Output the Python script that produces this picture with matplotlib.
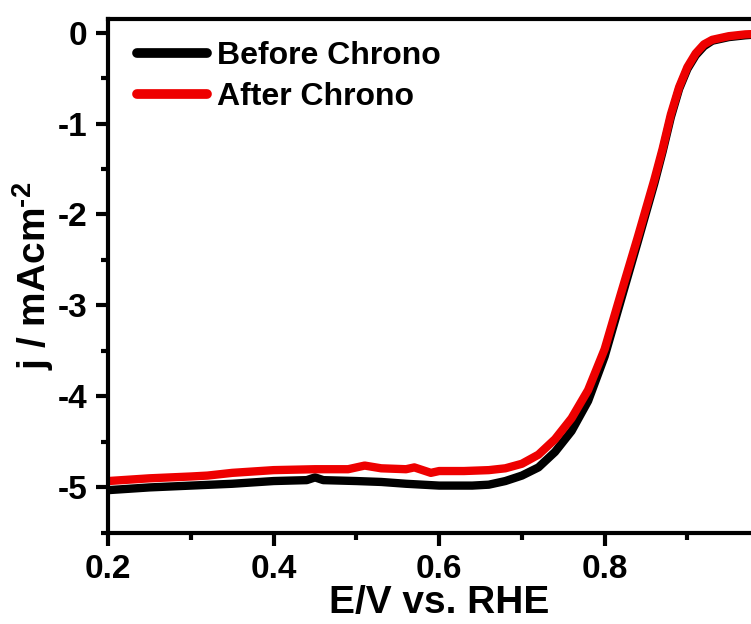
import matplotlib
matplotlib.use("Agg")
import matplotlib.pyplot as plt
from matplotlib.ticker import MultipleLocator

plt.rcParams["font.family"] = ["Liberation Sans", "DejaVu Sans"]
plt.rcParams["font.weight"] = "bold"
plt.rcParams["mathtext.fontset"] = "custom"
plt.rcParams["mathtext.rm"] = "Liberation Sans:bold"
plt.rcParams["mathtext.bf"] = "Liberation Sans:bold"

# potential in V vs. RHE
before_e = [0.20, 0.25, 0.30, 0.35, 0.40, 0.44, 0.45, 0.46, 0.50, 0.53, 0.56, 0.58,
            0.60, 0.64, 0.66, 0.68, 0.70, 0.72, 0.74, 0.76, 0.78, 0.80, 0.82, 0.84,
            0.86, 0.87, 0.88, 0.89, 0.90, 0.91, 0.92, 0.93, 0.95, 0.97, 1.00]
before_j = [-5.03, -5.00, -4.98, -4.96, -4.93, -4.92, -4.89, -4.92, -4.93, -4.94, -4.96, -4.97,
            -4.98, -4.98, -4.97, -4.93, -4.87, -4.78, -4.61, -4.38, -4.05, -3.56, -2.93, -2.30,
            -1.66, -1.31, -0.93, -0.62, -0.40, -0.25, -0.15, -0.09, -0.05, -0.03, -0.01]

after_e = [0.20, 0.25, 0.30, 0.32, 0.35, 0.40, 0.45, 0.49, 0.51, 0.53, 0.56, 0.57,
           0.59, 0.60, 0.63, 0.66, 0.68, 0.70, 0.72, 0.74, 0.76, 0.78, 0.80, 0.82,
           0.84, 0.86, 0.87, 0.88, 0.89, 0.90, 0.91, 0.92, 0.93, 0.95, 0.97, 1.00]
after_j = [-4.93, -4.90, -4.88, -4.87, -4.84, -4.81, -4.80, -4.80, -4.76, -4.79, -4.80, -4.78,
           -4.84, -4.82, -4.82, -4.81, -4.79, -4.74, -4.64, -4.47, -4.24, -3.93, -3.48, -2.86,
           -2.25, -1.62, -1.28, -0.90, -0.60, -0.38, -0.23, -0.13, -0.08, -0.04, -0.02, -0.01]


def plot_lsv():
    fig = plt.figure(figsize=(7.51, 6.24), dpi=100)
    # axes runs past the right edge of the figure, like the cropped original
    ax = fig.add_axes([0.144, 0.146, 0.8815, 0.8237])

    ax.plot(before_e, before_j, color="black", lw=6, solid_joinstyle="round",
            solid_capstyle="round", label="Before Chrono")
    ax.plot(after_e, after_j, color="#ee0000", lw=6, solid_joinstyle="round",
            solid_capstyle="round", label="After Chrono")

    ax.set_xlim(0.2, 1.0)
    ax.set_ylim(-5.5, 0.15)
    ax.xaxis.set_minor_locator(MultipleLocator(0.1))
    ax.yaxis.set_minor_locator(MultipleLocator(0.5))
    ax.set_xticks([0.2, 0.4, 0.6, 0.8])
    ax.set_xticklabels(["0.2", "0.4", "0.6", "0.8"])
    ax.set_yticks([0, -1, -2, -3, -4, -5])
    ax.set_yticklabels(["0", "-1", "-2", "-3", "-4", "-5"])

    for s in ax.spines.values():
        s.set_linewidth(3)
    ax.tick_params(which="major", direction="out", length=9, width=3,
                   labelsize=24, pad=6)
    ax.tick_params(which="minor", direction="out", length=5, width=3)

    ax.set_xlabel("E/V vs. RHE", fontsize=28, fontweight="bold", labelpad=0)
    ax.set_ylabel("j / mAcm$^{\\text{-2}}$", fontsize=28, fontweight="bold", labelpad=1)

    leg = ax.legend(loc="upper left", bbox_to_anchor=(0.01, 1.0), frameon=False,
                    fontsize=23, handlelength=2.2, handletextpad=0.3,
                    labelspacing=0.35, borderaxespad=0.3)
    for line in leg.get_lines():
        line.set_linewidth(7)

    fig.savefig("out.png", dpi=100)


def main():
    plot_lsv()


if __name__ == "__main__":
    main()
